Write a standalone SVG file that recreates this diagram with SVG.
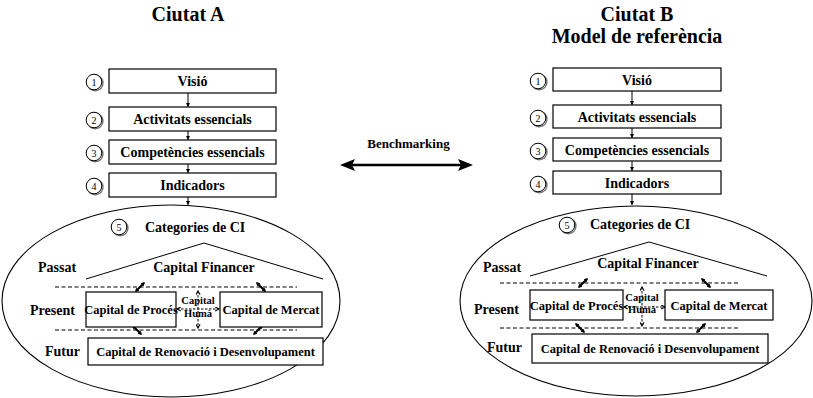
<svg xmlns="http://www.w3.org/2000/svg" width="813" height="398" viewBox="0 0 813 398" font-family="Liberation Serif, Times New Roman, serif">
<defs>
<style>
text{font-family:"Liberation Serif","Times New Roman",serif;font-weight:bold;fill:#000}
.t{font-size:20px;text-anchor:middle}
.b{font-size:14px;text-anchor:middle}
.c{font-size:12.5px;text-anchor:middle}
.l{font-size:14px}
.h{font-size:10.5px;text-anchor:middle}
.n{font-size:10px;font-weight:normal;text-anchor:middle}
.box{fill:#fff;stroke:#000;stroke-width:1.2}
.ell{fill:none;stroke:#000;stroke-width:1.1}
.num{fill:#fff;stroke:#000;stroke-width:1}
.sh{fill:none;stroke:#777;stroke-width:1.4}
.flow{stroke:#000;stroke-width:1;marker-end:url(#fa)}
.dash{stroke:#000;stroke-width:1;stroke-dasharray:4 2.5}
.tri{fill:none;stroke:#000;stroke-width:1}
.dia{stroke:#000;stroke-width:2.2;marker-start:url(#sa);marker-end:url(#sa)}
.cross{stroke:#000;stroke-width:1;stroke-dasharray:2.5 1.5;marker-start:url(#oa);marker-end:url(#oa)}
</style>
<marker id="fa" viewBox="0 0 6 6" refX="6" refY="3" markerWidth="4" markerHeight="4" orient="auto"><path d="M0,0 L6,3 L0,6 Z" fill="#000"/></marker>
<marker id="sa" viewBox="0 0 6 6" refX="4" refY="3" markerWidth="4" markerHeight="4" markerUnits="userSpaceOnUse" orient="auto-start-reverse"><path d="M0,0 L6,3 L0,6 Z" fill="#000"/></marker>
<marker id="oa" viewBox="0 0 6 6" refX="5" refY="3" markerWidth="5" markerHeight="5" markerUnits="userSpaceOnUse" orient="auto-start-reverse"><path d="M0.5,0.5 L5,3 L0.5,5.5" fill="none" stroke="#000" stroke-width="1.3"/></marker>
</defs>
<rect width="813" height="398" fill="#fff"/>

<g id="titles">
<text class="t" x="188" y="21">Ciutat A</text>
<text class="t" x="637" y="21">Ciutat B</text>
<text class="t" x="637" y="43">Model de referència</text>
</g>

<g id="connectors">
<line class="flow" x1="188" y1="93" x2="188" y2="107"/>
<line class="flow" x1="188" y1="131" x2="188" y2="140"/>
<line class="flow" x1="188" y1="164" x2="188" y2="173"/>
<line class="flow" x1="188" y1="197" x2="188" y2="205"/>
<line class="flow" x1="632" y1="91" x2="632" y2="105"/>
<line class="flow" x1="632" y1="128" x2="632" y2="138"/>
<line class="flow" x1="632" y1="161" x2="632" y2="171"/>
<line class="flow" x1="632" y1="194" x2="632" y2="205"/>
</g>

<g id="benchmarking">
<text x="408.5" y="148" style="font-size:13px;text-anchor:middle">Benchmarking</text>
<line x1="352" y1="165" x2="461" y2="165" stroke="#000" stroke-width="2.5"/>
<polygon points="340,165 355,159 352,165 355,171" fill="#000"/>
<polygon points="473,165 458,159 461,165 458,171" fill="#000"/>
</g>

<!-- Ciutat A -->
<g id="a1">
<circle class="sh" cx="95.2" cy="83" r="7.8"/><circle class="num" cx="94" cy="82" r="7.8"/><text class="n" x="94" y="85.5">1</text>
<rect class="box" x="109" y="69" width="167" height="24"/><text class="b" x="192.5" y="86">Visió</text>
</g>
<g id="a2">
<circle class="sh" cx="95.2" cy="121" r="7.8"/><circle class="num" cx="94" cy="120" r="7.8"/><text class="n" x="94" y="123.5">2</text>
<rect class="box" x="109" y="107" width="167" height="24"/><text class="b" x="192.5" y="124">Activitats essencials</text>
</g>
<g id="a3">
<circle class="sh" cx="95.2" cy="154" r="7.8"/><circle class="num" cx="94" cy="153" r="7.8"/><text class="n" x="94" y="156.5">3</text>
<rect class="box" x="109" y="140" width="167" height="24"/><text class="b" x="192.5" y="157">Competències essencials</text>
</g>
<g id="a4">
<circle class="sh" cx="95.2" cy="187" r="7.8"/><circle class="num" cx="94" cy="186" r="7.8"/><text class="n" x="94" y="189.5">4</text>
<rect class="box" x="109" y="173" width="167" height="24"/><text class="b" x="192.5" y="190">Indicadors</text>
</g>
<g id="a5">
<ellipse class="ell" cx="171" cy="301" rx="169" ry="96"/>
<circle class="sh" cx="120.2" cy="228" r="7.8"/><circle class="num" cx="119" cy="227" r="7.8"/><text class="n" x="119" y="230.5">5</text>
<text class="l" x="145" y="232">Categories de CI</text>
<polyline class="tri" points="86,279 204,243 323,279"/>
<text class="b" x="204" y="272">Capital Financer</text>
<text class="l" x="38" y="272">Passat</text>
<line class="dash" x1="55" y1="287" x2="297" y2="287"/>
<text class="l" x="30" y="315">Present</text>
<line class="dash" x1="55" y1="330" x2="297" y2="330"/>
<text class="l" x="45" y="356">Futur</text>
<line class="dia" x1="136" y1="291" x2="144" y2="283"/>
<line class="dia" x1="257" y1="283" x2="265" y2="291"/>
<line class="dia" x1="133" y1="326" x2="141" y2="334"/>
<line class="dia" x1="254" y1="334" x2="262" y2="326"/>
</g>
<g id="a-proces"><rect class="box" x="86" y="292" width="90" height="35"/><text class="c" x="131" y="314">Capital de Procés</text></g>
<g id="a-mercat"><rect class="box" x="220" y="292" width="102" height="35"/><text class="c" x="271" y="314">Capital de Mercat</text></g>
<g id="a-huma">
<line class="cross" x1="198" y1="291" x2="198" y2="328"/>
<line class="cross" x1="177" y1="309" x2="219" y2="309"/>
<text class="h" x="198" y="304">Capital</text><text class="h" x="198" y="317">Humà</text>
</g>
<g id="a-futur"><rect class="box" x="88" y="338" width="235" height="27"/><text class="c" x="205.5" y="356">Capital de Renovació i Desenvolupament</text></g>

<!-- Ciutat B -->
<g id="b1">
<circle class="sh" cx="539.2" cy="82" r="7.8"/><circle class="num" cx="538" cy="81" r="7.8"/><text class="n" x="538" y="84.5">1</text>
<rect class="box" x="553" y="68" width="168" height="23"/><text class="b" x="637" y="84.5">Visió</text>
</g>
<g id="b2">
<circle class="sh" cx="539.2" cy="119" r="7.8"/><circle class="num" cx="538" cy="118" r="7.8"/><text class="n" x="538" y="121.5">2</text>
<rect class="box" x="553" y="105" width="168" height="23"/><text class="b" x="637" y="121.5">Activitats essencials</text>
</g>
<g id="b3">
<circle class="sh" cx="539.2" cy="152" r="7.8"/><circle class="num" cx="538" cy="151" r="7.8"/><text class="n" x="538" y="154.5">3</text>
<rect class="box" x="553" y="138" width="168" height="23"/><text class="b" x="637" y="154.5">Competències essencials</text>
</g>
<g id="b4">
<circle class="sh" cx="539.2" cy="185" r="7.8"/><circle class="num" cx="538" cy="184" r="7.8"/><text class="n" x="538" y="187.5">4</text>
<rect class="box" x="553" y="171" width="168" height="23"/><text class="b" x="637" y="187.5">Indicadors</text>
</g>
<g id="b5">
<ellipse class="ell" cx="636" cy="301" rx="176" ry="95"/>
<circle class="sh" cx="568.2" cy="226" r="7.8"/><circle class="num" cx="567" cy="225" r="7.8"/><text class="n" x="567" y="228.5">5</text>
<text class="l" x="590" y="229">Categories de CI</text>
<polyline class="tri" points="530,276 649,242 767,276"/>
<text class="b" x="648" y="268">Capital Financer</text>
<text class="l" x="483" y="272">Passat</text>
<line class="dash" x1="500" y1="283" x2="740" y2="283"/>
<text class="l" x="474" y="314">Present</text>
<line class="dash" x1="500" y1="328" x2="740" y2="328"/>
<text class="l" x="487" y="352">Futur</text>
<line class="dia" x1="579" y1="287" x2="587" y2="279"/>
<line class="dia" x1="702" y1="279" x2="710" y2="287"/>
<line class="dia" x1="576" y1="324" x2="584" y2="332"/>
<line class="dia" x1="697" y1="332" x2="705" y2="324"/>
</g>
<g id="b-proces"><rect class="box" x="530" y="290" width="93" height="30"/><text class="c" x="576.5" y="310">Capital de Procés</text></g>
<g id="b-mercat"><rect class="box" x="665" y="290" width="108" height="30"/><text class="c" x="719" y="310">Capital de Mercat</text></g>
<g id="b-huma">
<line class="cross" x1="642" y1="287" x2="642" y2="326"/>
<line class="cross" x1="624" y1="307" x2="665" y2="307"/>
<text class="h" x="642" y="301">Capital</text><text class="h" x="642" y="313">Humà</text>
</g>
<g id="b-futur"><rect class="box" x="532" y="334" width="236" height="29"/><text class="c" x="650" y="353">Capital de Renovació i Desenvolupament</text></g>
</svg>
